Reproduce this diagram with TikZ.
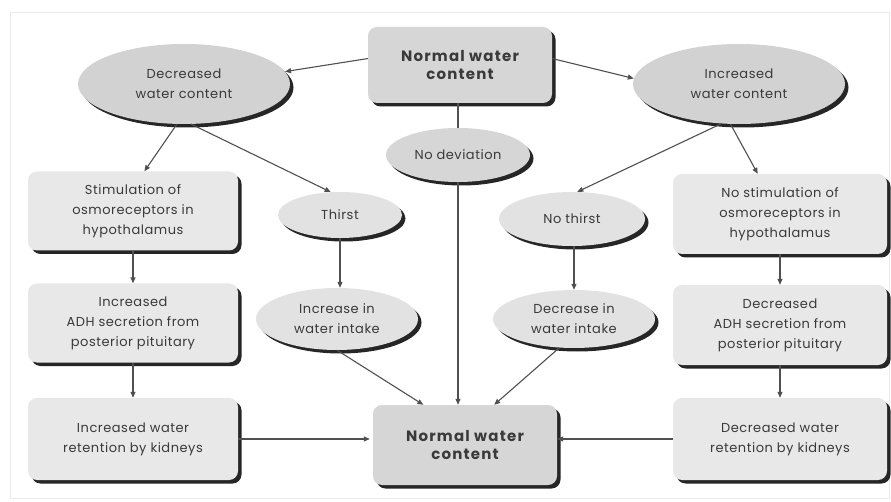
\documentclass[tikz,border=0pt]{standalone}
\usepackage{fontspec}
\setmainfont{Poppins}[LetterSpace=4]
\newfontfamily\headfont{Poppins}[LetterSpace=8]
\usetikzlibrary{shapes.geometric,shadows,arrows.meta}
\definecolor{ink}{HTML}{3A3A3A}
\definecolor{wire}{HTML}{505050}
\definecolor{boxfill}{HTML}{E8E8E8}
\definecolor{mainfill}{HTML}{D6D6D6}
\definecolor{bigoval}{HTML}{D2D2D2}
\definecolor{smalloval}{HTML}{E2E2E2}
\tikzset{
  every node/.style={text=ink, font=\fontsize{13}{20}\selectfont, align=center},
  shade/.style={drop shadow={shadow xshift=3.5pt, shadow yshift=-3.5pt, fill=black!85, opacity=1}},
  stepbox/.style={shape=rectangle, rounded corners=9pt, fill=boxfill, shade,
    minimum width=210pt, minimum height=79pt, inner sep=2pt},
  mainbox/.style={stepbox, fill=mainfill, minimum width=184pt, minimum height=76pt,
    font=\headfont\fontsize{15}{18}\selectfont\bfseries},
  bigoval/.style={shape=ellipse, fill=bigoval, shade, inner sep=0pt,
    minimum width=212pt, minimum height=80pt},
  smalloval/.style={shape=ellipse, fill=smalloval, shade, inner sep=0pt},
  flow/.style={draw=wire, line width=1.1pt, -{Triangle[length=6pt,width=5pt]}},
  plain/.style={draw=wire, line width=1.1pt}
}
\begin{document}
\begin{tikzpicture}[x=1pt,y=-1pt]
\useasboundingbox (0,0) rectangle (891,502);
\fill[white] (0,0) rectangle (891,502);
\draw[black!8, line width=0.8pt] (10,12) rectangle (889,498);

% centre column
\node[mainbox] (topN) at (460,65) {Normal water\\content};
\node[smalloval, fill=mainfill, minimum width=144pt, minimum height=54pt] (nodev) at (458,155) {No deviation};
\node[mainbox, minimum height=80pt] (botN) at (465,445) {Normal water\\content};

% decreased water content branch
\node[bigoval] (decW) at (184,84) {Decreased\\water content};
\node[stepbox] (stim) at (133,211) {Stimulation of\\osmoreceptors in\\hypothalamus};
\node[stepbox] (incADH) at (133,323) {Increased\\ADH secretion from\\posterior pituitary};
\node[stepbox, minimum height=82pt] (incRet) at (133,439) {Increased water\\retention by kidneys};
\node[smalloval, minimum width=124pt, minimum height=46pt] (thirst) at (340,215) {Thirst};
\node[smalloval, minimum width=162pt, minimum height=62pt] (incInt) at (337,319) {Increase in\\water intake};

% increased water content branch
\node[bigoval] (incW) at (739,84) {Increased\\water content};
\node[stepbox, minimum width=214pt, minimum height=80pt] (nostim) at (780,214) {No stimulation of\\osmoreceptors in\\hypothalamus};
\node[stepbox, minimum width=214pt, minimum height=80pt] (decADH) at (780,325) {Decreased\\ADH secretion from\\posterior pituitary};
\node[stepbox, minimum width=214pt, minimum height=82pt] (decRet) at (780,439) {Decreased water\\retention by kidneys};
\node[smalloval, minimum width=146pt, minimum height=54pt] (nothirst) at (572,219) {No thirst};
\node[smalloval, minimum width=162pt, minimum height=58pt] (decInt) at (574,319) {Decrease in\\water intake};

% connectors
\draw[flow] (topN.176) -- (decW.7);
\draw[flow] (topN.4) -- (incW.177);
\draw[plain] (topN.south -| nodev.north) -- (nodev.north);
\draw[flow] (nodev.south) -- (nodev.south |- botN.north);

\draw[flow] (decW.260) -- (stim.74);
\draw[flow] (decW.280) -- (thirst.112);
\draw[flow] (stim.south) -- (incADH.north);
\draw[flow] (incADH.south) -- (incRet.north);
\draw[flow] (thirst.south) -- (thirst.south |- incInt.north);
\draw[flow] (incInt.south) -- (botN.136);
\draw[flow, shorten >=3pt] (incRet.east) -- (incRet.east -| botN.west);

\draw[flow] (incW.246) -- (nothirst.79);
\draw[flow] (incW.258) -- (nostim.119);
\draw[flow] (nostim.south) -- (decADH.north);
\draw[flow] (decADH.south) -- (decRet.north);
\draw[flow] (nothirst.south -| decInt.north) -- (decInt.north);
\draw[flow] (decInt.243) -- (botN.54);
\draw[flow] (decRet.west) -- (decRet.west -| botN.east);
\end{tikzpicture}
\end{document}
